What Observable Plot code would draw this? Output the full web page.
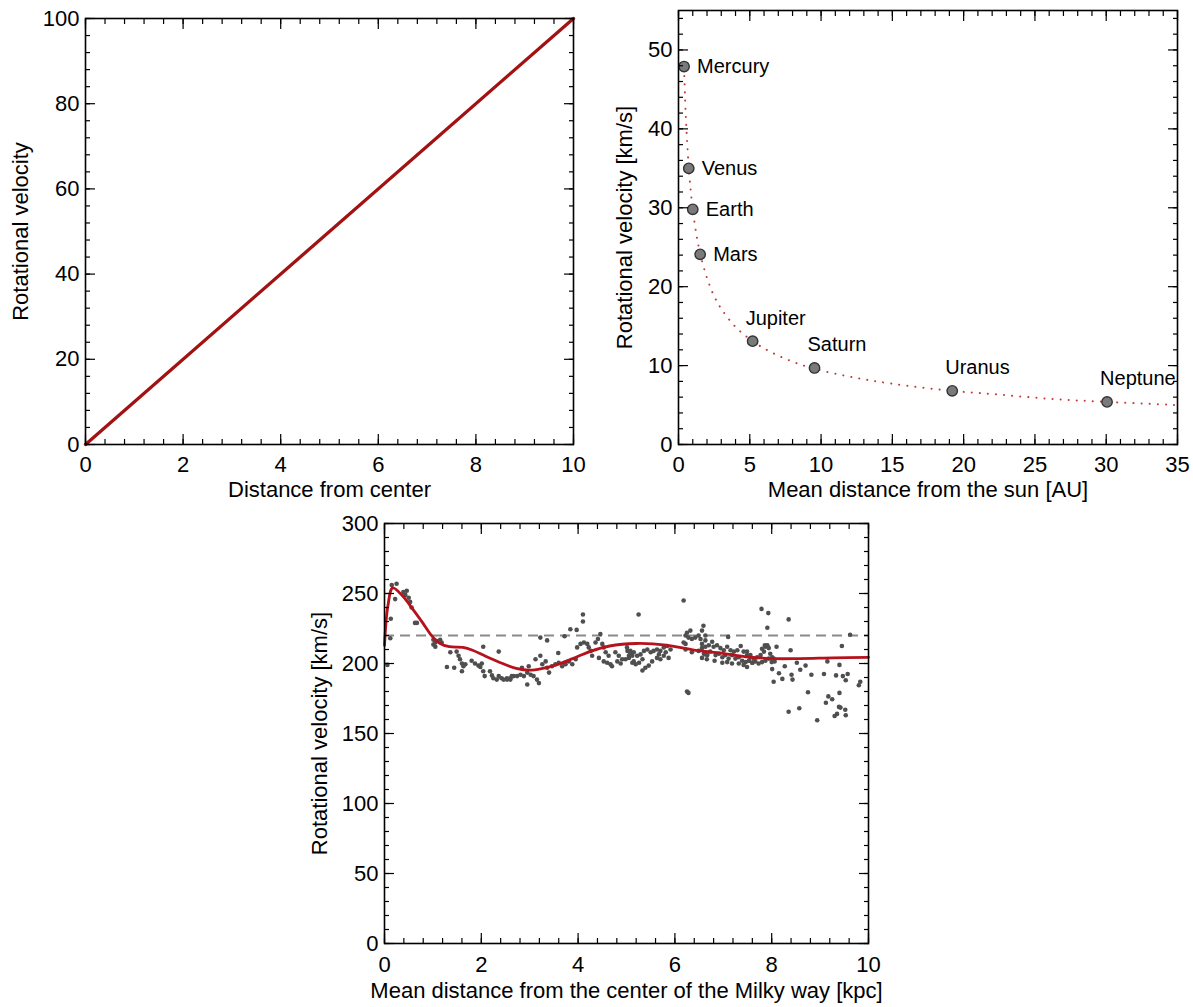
<!DOCTYPE html>
<html>
<head>
<meta charset="utf-8">
<script src="https://cdn.jsdelivr.net/npm/d3@7"></script>
<script src="https://cdn.jsdelivr.net/npm/@observablehq/plot@0.6"></script>
<style>
  html, body { margin: 0; padding: 0; background: #fff; }
  body { width: 1193px; height: 1007px; position: relative; overflow: hidden; font-family: "Liberation Sans", Arial, Helvetica, sans-serif; }
  .panel { position: absolute; }
</style>
</head>
<body>
<div id="p1" class="panel" style="left:0px;top:0px"></div>
<div id="p2" class="panel" style="left:596px;top:0px"></div>
<div id="p3" class="panel" style="left:300px;top:500px"></div>
<script>
// ---------- Panel 1: solid-body rotation ----------
const solidR = [0, 10];
const solidV = [0, 100];
const p1XTicks = [0, 2, 4, 6, 8, 10];
const p1YTicks = [0, 20, 40, 60, 80, 100];

// ---------- Panel 2: solar system ----------
const planetNames = ["Mercury", "Venus", "Earth", "Mars", "Jupiter", "Saturn", "Uranus", "Neptune"];
const planetAU = [0.39, 0.72, 1.0, 1.52, 5.2, 9.54, 19.2, 30.06];
const planetV = [47.9, 35.0, 29.8, 24.1, 13.1, 9.7, 6.8, 5.4];
const keplerAU = [0.39, 0.5, 0.6, 0.72, 0.85, 1.0, 1.25, 1.52, 2, 2.5, 3, 4, 5.2, 6.5, 8, 9.54, 12, 15, 19.2, 22, 26, 30.06, 35];
const keplerV = [47.7, 42.1, 38.5, 35.1, 32.3, 29.8, 26.7, 24.2, 21.1, 18.8, 17.2, 14.9, 13.1, 11.7, 10.5, 9.6, 8.6, 7.7, 6.8, 6.4, 5.8, 5.4, 5.0];
const sideLabelled = ["Mercury", "Venus", "Earth", "Mars"];
const p2XTicks = [0, 5, 10, 15, 20, 25, 30, 35];
const p2YTicks = [0, 10, 20, 30, 40, 50];

// ---------- Panel 3: Milky Way ----------
const mwCurveR = [0, 0.07, 0.17, 0.38, 0.58, 0.79, 0.96, 1.14, 1.34, 1.62, 1.82, 2.1, 2.44, 2.72, 3.0, 3.27, 3.55, 3.89, 4.24, 4.65, 5.2, 5.82, 6.37, 6.92, 7.47, 8.02, 8.57, 9.26, 10];
const mwCurveV = [213, 241, 254, 248, 239, 229, 220.5, 214.5, 212, 211.5, 209.5, 205, 200, 196.5, 195.2, 196.5, 199, 203.5, 208.5, 212.5, 214.3, 213.2, 209.8, 207.6, 204.8, 203.5, 203.5, 204, 204.4];
const mwFlatV = 220;
const mwDataR = [
  0.15,0.25,0.22,0.13,0.12,0.06,0.39,0.46,0.43,0.5,0.53,0.56,0.63,0.67,
  1.01,1.05,1.08,1.15,1.18,1.01,1.05,1.36,1.49,1.53,1.56,1.6,1.63,1.67,1.29,1.44,1.6,
  1.8,1.87,1.94,2.01,1.98,2.04,2.04,2.07,2.18,2.22,2.25,2.32,2.36,2.42,2.46,2.53,2.6,2.63,2.36,
  2.53,2.6,2.67,2.74,2.81,2.88,2.95,3.02,3.08,3.15,2.95,3.19,
  2.84,2.98,3.12,3.22,3.26,3.33,3.36,3.4,3.22,3.36,
  3.46,3.53,3.6,3.67,3.74,3.81,3.88,3.95,3.59,3.72,3.84,3.97,4.1,4.1,
  3.98,4.05,4.12,4.19,4.22,4.26,4.29,4.36,4.41,4.46,4.5,4.53,
  4.43,4.53,4.6,4.67,4.7,4.63,4.57,
  4.77,4.84,4.91,4.81,4.88,4.98,5.05,5.12,5.15,5.08,5.02,
  5.25,6.18,6.25,6.28,
  5.01,5.08,5.15,5.22,5.29,5.36,5.43,5.5,5.56,5.63,5.7,5.77,5.84,5.91,
  5.12,5.19,5.26,5.33,5.39,5.46,5.53,5.63,5.7,5.77,5.87,5.05,5.33,5.81,5.67,
  6.22,6.28,6.35,6.42,6.49,6.56,6.59,6.25,6.32,6.53,6.63,6.18,6.22,6.56,6.63,
  6.22,6.35,6.49,6.63,6.66,6.56,
  6.56,6.63,6.7,6.77,6.8,6.87,6.94,7.01,7.08,7.15,7.22,7.29,7.36,7.42,7.49,7.56,7.63,
  6.6,6.67,6.73,6.84,6.91,6.98,7.04,7.11,7.18,7.25,7.32,7.39,7.46,7.53,7.6,
  6.82,6.98,7.08,7.18,7.32,7.42,7.1,
  7.49,7.56,7.63,7.7,7.77,7.84,7.87,7.91,7.94,7.97,8.01,8.04,
  7.53,7.6,7.66,7.73,7.8,7.87,7.94,8.0,8.06,7.49,7.8,7.86,
  7.79,7.93,7.91,8.1,8.01,8.15,8.04,8.22,8.27,8.35,8.39,8.41,8.43,8.52,8.59,8.7,8.75,8.82,
  9.08,9.15,9.17,9.25,9.12,9.33,9.4,9.4,9.45,9.47,9.53,9.57,9.62,9.8,9.83,
  8.35,8.57,8.94,9.3,9.35,9.39,9.42,9.52,9.53
];
const mwDataV = [
  256,257,246,232,218,199,251,252,249,247,244,240,229,229,
  217,215,216,217,215,213.5,212,208,208.5,205.5,203,200,198,199.5,197.5,197,194.5,
  202,200,198.5,200,197.5,212,194.5,191,194.5,191.5,189.5,188.5,191,189.5,188.5,189.5,188.5,191,208.5,
  188.5,189.5,191,191,192,191,193.5,192,191,188.5,185,186,
  197,198,203,205.5,199.5,201.5,197,193.5,218.5,216.5,
  198,199.5,200.5,198,199.5,201.5,199.5,203,207.5,219.5,224.5,224,235,230,
  211.5,214,215,214,211.5,209,205.5,215,217.5,221,214,211.5,
  204,201.5,200.5,199.5,198,205.5,208,
  208,205.5,203,201.5,200,203,204,205.5,201.5,207.5,209,
  235,245,180,179,
  211.5,209,208,205.5,206.5,209,210,208,209,210,209,211.5,212.5,210,
  200.5,199.5,200.5,195,197,198.5,201.5,204,203,205.5,204,205.5,203,208,206.5,
  220,218.5,217.5,218.5,220,223.5,227,222,223.5,217.5,216.5,215,214,214,220,
  210,208,209,206.5,203,204,
  211,212,213,215.5,212,213,211,209.5,212,209.5,208.5,209.5,212.5,208.5,206,204.5,203.5,
  207,206,208.5,206,207,204.5,206,203.5,206,203.5,204.5,202,201,202,200.5,
  202,200.5,201,200,200,199,219,
  208.5,206,203.5,204.5,206,208.5,212,213,211,207,204.5,203.5,
  202,200.5,201.5,200,201,202,203.5,201,201.5,197.5,210.5,213,
  239,236,225.5,212,196,193,187,189,198,231.5,209.5,192,188.5,200.5,195.5,198.5,179.5,192,
  192.5,201.5,176.5,174.5,172,191.5,199,179,212.5,191,188,192.5,220.5,184.5,187,
  165.5,168,159.5,162.5,164,169,168.5,167,163
];
const p3XTicks = [0, 2, 4, 6, 8, 10];
const p3YTicks = [0, 50, 100, 150, 200, 250, 300];

// ---------- shared styling ----------
const FONT = "'Liberation Sans', Arial, Helvetica, sans-serif";
const baseStyle = { background: "transparent", fontFamily: FONT, fontSize: "22px", color: "black", overflow: "visible" };

function frameAxes(xMaj, xMin, yMaj, yMin, xPad) {
  const tk = { stroke: "black", strokeWidth: 1.2, tickFormat: () => "", label: null };
  return [
    Plot.axisX(xMin, { ...tk, anchor: "bottom", tickSize: -5 }),
    Plot.axisX(xMin, { ...tk, anchor: "top", tickSize: -5 }),
    Plot.axisY(yMin, { ...tk, anchor: "left", tickSize: -5 }),
    Plot.axisY(yMin, { ...tk, anchor: "right", tickSize: -5 }),
    Plot.axisX(xMaj, { ...tk, anchor: "bottom", tickSize: -10 }),
    Plot.axisX(xMaj, { ...tk, anchor: "top", tickSize: -10 }),
    Plot.axisY(yMaj, { ...tk, anchor: "left", tickSize: -10 }),
    Plot.axisY(yMaj, { ...tk, anchor: "right", tickSize: -10 }),
    Plot.axisX(xMaj, { anchor: "bottom", tickSize: 0, tickPadding: xPad, label: null, fontSize: 22 }),
    Plot.axisY(yMaj, { anchor: "left", tickSize: 0, tickPadding: 6, label: null, fontSize: 22 }),
    Plot.frame({ stroke: "black", strokeWidth: 1.6 })
  ];
}
function titles(xTitle, yTitle, xdy, ydx) {
  return [
    Plot.text([xTitle], { text: d => d, frameAnchor: "bottom", lineAnchor: "top", dy: xdy, fontSize: 22, fill: "black" }),
    Plot.text([yTitle], { text: d => d, frameAnchor: "left", rotate: -90, lineAnchor: "middle", textAnchor: "middle", dx: ydx, fontSize: 22, fill: "black" })
  ];
}

// ---------- Panel 1 ----------
const solid = solidR.map((r, i) => ({ r, v: solidV[i] }));
const plot1 = Plot.plot({
  width: 596, height: 500,
  marginLeft: 85, marginRight: 23, marginTop: 18, marginBottom: 56,
  style: baseStyle,
  x: { domain: [0, 10] },
  y: { domain: [0, 100] },
  marks: [
    Plot.line(solid, { x: "r", y: "v", stroke: "#a31212", strokeWidth: 3.3 }),
    ...frameAxes(p1XTicks, d3.range(0, 10.001, 0.4), p1YTicks, d3.range(0, 100.001, 4), 12),
    ...titles("Distance from center", "Rotational velocity", 37, -65)
  ]
});
document.getElementById("p1").appendChild(plot1);

// ---------- Panel 2 ----------
const planets = planetNames.map((name, i) => ({ name, au: planetAU[i], v: planetV[i] }));
const kepler = keplerAU.map((r, i) => ({ r, v: keplerV[i] }));
const plot2 = Plot.plot({
  width: 597, height: 500,
  marginLeft: 82, marginRight: 16, marginTop: 10, marginBottom: 56,
  style: baseStyle,
  x: { domain: [0, 35] },
  y: { domain: [0, 55] },
  marks: [
    Plot.line(kepler, { x: "r", y: "v", curve: "catmull-rom", stroke: "#c43c3c", strokeWidth: 2, strokeDasharray: "0.1,8", strokeLinecap: "round" }),
    Plot.dot(planets, { x: "au", y: "v", r: 5.2, fill: "#7a7a7a", stroke: "#333", strokeWidth: 1.4 }),
    Plot.text(planets.filter(d => sideLabelled.includes(d.name)), { x: "au", y: "v", text: "name", textAnchor: "start", lineAnchor: "middle", dx: 13, fontSize: 20, fill: "black" }),
    Plot.text(planets.filter(d => !sideLabelled.includes(d.name)), { x: "au", y: "v", text: "name", textAnchor: "start", lineAnchor: "middle", dx: -7, dy: -23, fontSize: 20, fill: "black" }),
    ...frameAxes(p2XTicks, d3.range(0, 35.001, 1), p2YTicks, d3.range(0, 55.001, 2), 12),
    ...titles("Mean distance from the sun [AU]", "Rotational velocity [km/s]", 37, -54)
  ]
});
document.getElementById("p2").appendChild(plot2);

// ---------- Panel 3 ----------
const mwCurve = mwCurveR.map((r, i) => ({ r, v: mwCurveV[i] }));
const mwData = mwDataR.map((r, i) => ({ r, v: mwDataV[i] }));
const plot3 = Plot.plot({
  width: 600, height: 507,
  marginLeft: 84, marginRight: 32, marginTop: 23, marginBottom: 64,
  style: baseStyle,
  x: { domain: [0, 10] },
  y: { domain: [0, 300] },
  marks: [
    Plot.ruleY([mwFlatV], { stroke: "#8a8a8a", strokeWidth: 2, strokeDasharray: "10,6" }),
    Plot.dot(mwData, { x: "r", y: "v", r: 2.3, fill: "#4f4f4f", stroke: null }),
    Plot.line(mwCurve, { x: "r", y: "v", curve: "catmull-rom", stroke: "#b5121b", strokeWidth: 2.8 }),
    ...frameAxes(p3XTicks, d3.range(0, 10.001, 0.4), p3YTicks, d3.range(0, 300.001, 10), 13),
    ...titles("Mean distance from the center of the Milky way [kpc]", "Rotational velocity [km/s]", 39, -65)
  ]
});
document.getElementById("p3").appendChild(plot3);
</script>
</body>
</html>
